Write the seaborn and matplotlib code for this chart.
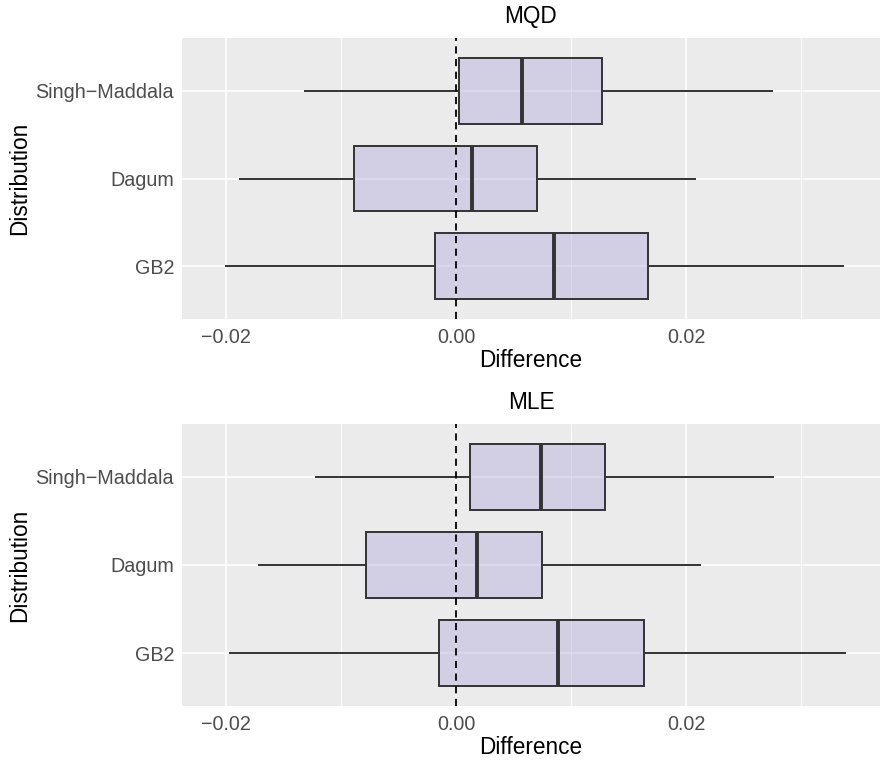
import numpy as np
import pandas as pd
import matplotlib
matplotlib.use("Agg")
import matplotlib.pyplot as plt
import seaborn as sns

# ---- data (five-number summaries) ----
categories = ["Singh\u2212Maddala", "Dagum", "GB2"]
methods = ["MQD", "MLE"]

# order: whisker low, Q1, median, Q3, whisker high
mqd_singh = [-0.0132, 0.00023, 0.00574, 0.01272, 0.02754]
mqd_dagum = [-0.0189, -0.00884, 0.00139, 0.00707, 0.02084]
mqd_gb2 = [-0.02006, -0.00186, 0.00852, 0.01672, 0.03371]

mle_singh = [-0.01223, 0.00122, 0.00739, 0.01293, 0.02765]
mle_dagum = [-0.01719, -0.00786, 0.0018, 0.00748, 0.0213]
mle_gb2 = [-0.01974, -0.00151, 0.00887, 0.01632, 0.03391]

xticks = [-0.02, 0.00, 0.02]
xtick_labels = ["\u22120.02", "0.00", "0.02"]
minor_ticks = [-0.01, 0.01, 0.03]

stats = {
    "MQD": [mqd_singh, mqd_dagum, mqd_gb2],
    "MLE": [mle_singh, mle_dagum, mle_gb2],
}

rows = []
for m in methods:
    for cat, vals in zip(categories, stats[m]):
        for v in vals:
            rows.append({"Method": m, "Distribution": cat, "Difference": v})
df = pd.DataFrame(rows)

# ---- style ----
sns.set_theme(style="darkgrid")
plt.rcParams["font.family"] = ["Liberation Sans", "DejaVu Sans"]

W, H = 889, 760
fig = plt.figure(figsize=(W / 100, H / 100), dpi=100)
ax_top = fig.add_axes([182 / W, 1 - 319 / H, 698 / W, 281 / H])
ax_bot = fig.add_axes([182 / W, 1 - 706 / H, 698 / W, 282 / H])

fill_rgba = (187 / 255, 181 / 255, 225 / 255, 0.5)
edge = "#333333"

for ax, m in zip([ax_top, ax_bot], methods):
    sub = df[df["Method"] == m]
    sns.boxplot(
        data=sub, x="Difference", y="Distribution", order=categories,
        orient="h", whis=(0, 100), width=0.75, color="#bbb5e1",
        saturation=1, linecolor=edge, linewidth=1.4, showcaps=False,
        showfliers=False, medianprops=dict(linewidth=2.8, color=edge),
        ax=ax,
    )
    for p in ax.patches:
        p.set_facecolor(fill_rgba)
        p.set_edgecolor(edge)
    ax.set_facecolor("#EBEBEB")
    ax.set_xlim(-0.02383, 0.03687)
    ax.set_ylim(2.6, -0.6)
    ax.set_xticks(xticks)
    ax.set_xticklabels(xtick_labels)
    ax.set_xticks(minor_ticks, minor=True)
    ax.grid(which="major", color="white", linewidth=1.1)
    ax.grid(which="minor", axis="x", color="white", linewidth=0.55)
    ax.set_axisbelow(True)
    for s in ax.spines.values():
        s.set_visible(False)
    ax.tick_params(axis="both", which="major", length=3.2, width=0.9,
                   color="#333333", labelcolor="#4D4D4D", labelsize=14.2)
    ax.tick_params(axis="x", which="major", pad=3.0)
    ax.tick_params(axis="y", which="major", pad=2.5)
    ax.tick_params(axis="x", which="minor", length=0)
    ax.axvline(0, color="black", linestyle=(0, (4, 3)), linewidth=1.3, zorder=5)
    ax.set_title(m, fontsize=16.3, color="black", pad=10.5)
    ax.set_xlabel("Difference", fontsize=16.3, color="black", labelpad=2.0)
    ax.set_ylabel("Distribution", fontsize=16.3, color="black", labelpad=3.5)

fig.savefig("out.png", dpi=100, facecolor="white")
